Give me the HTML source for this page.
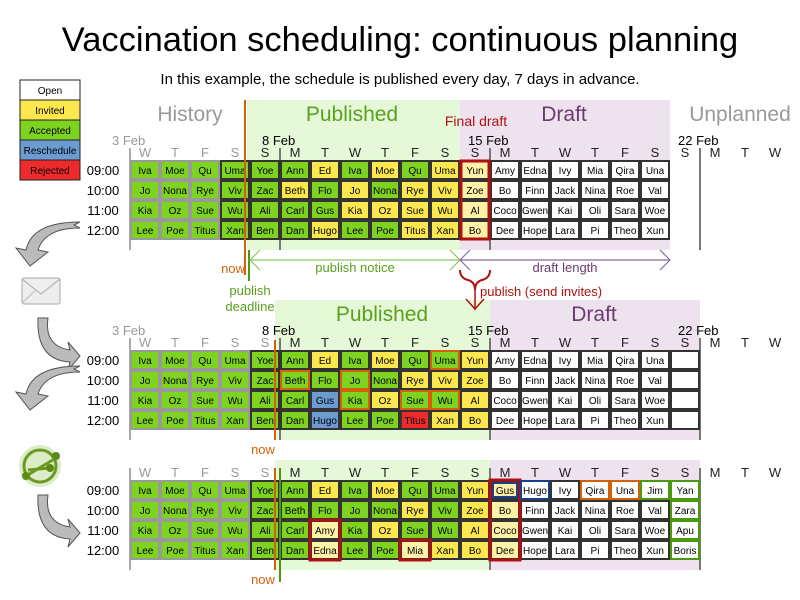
<!DOCTYPE html>
<html><head><meta charset="utf-8"><style>
body{margin:0;background:#fff}
svg{display:block;font-family:"Liberation Sans",sans-serif}
</style></head><body>
<svg id="s" width="800" height="600" viewBox="0 0 800 600" xmlns="http://www.w3.org/2000/svg">
<rect width="800" height="600" fill="#fff"/>
<text x="400" y="51" font-size="34.5" text-anchor="middle">Vaccination scheduling: continuous planning</text>
<text x="400" y="84" font-size="15" text-anchor="middle">In this example, the schedule is published every day, 7 days in advance.</text>
<g font-size="10" text-anchor="middle" stroke="#222">
<rect x="20" y="80" width="60" height="20" fill="#fff"/><rect x="20" y="100" width="60" height="20" fill="#fce84e"/>
<rect x="20" y="120" width="60" height="20" fill="#7ed321"/><rect x="20" y="140" width="60" height="20" fill="#6b9bd1"/>
<rect x="20" y="160" width="60" height="20" fill="#ee2a2a"/></g>
<g font-size="10" text-anchor="middle">
<text x="50" y="94">Open</text><text x="50" y="114">Invited</text><text x="50" y="134">Accepted</text><text x="50" y="154">Reschedule</text><text x="50" y="174">Rejected</text></g>
<rect x="247" y="100" width="213" height="150" fill="#e5f8d8"/>
<rect x="460" y="100" width="210" height="150" fill="#ede2ed"/>
<rect x="275" y="300" width="215" height="140" fill="#e5f8d8"/>
<rect x="490" y="300" width="210" height="140" fill="#ede2ed"/>
<rect x="275" y="460" width="215" height="110" fill="#e5f8d8"/>
<rect x="490" y="460" width="210" height="110" fill="#ede2ed"/>
<text x="190" y="121" font-size="21" fill="#999" text-anchor="middle">History</text>
<text x="352" y="121" font-size="21" fill="#5aa01e" text-anchor="middle">Published</text>
<text x="564" y="121" font-size="21" fill="#6a3a70" text-anchor="middle">Draft</text>
<text x="740" y="121" font-size="21" fill="#999" text-anchor="middle">Unplanned</text>
<text x="476" y="126" font-size="14" fill="#b01010" text-anchor="middle">Final draft</text>
<text x="382" y="321" font-size="21" fill="#5aa01e" text-anchor="middle">Published</text>
<text x="594" y="321" font-size="21" fill="#6a3a70" text-anchor="middle">Draft</text>
<g id="grids"></g>
<line x1="245" y1="100" x2="245" y2="275" stroke="#d4600a" stroke-width="2"/>
<line x1="249" y1="250" x2="249" y2="281" stroke="#4a9a10" stroke-width="2"/>
<text x="233" y="273" font-size="13" fill="#d4600a" text-anchor="middle">now</text>
<text x="250" y="295" font-size="13" fill="#5aa01e" text-anchor="middle">publish</text>
<text x="250" y="311" font-size="13" fill="#5aa01e" text-anchor="middle">deadline</text>
<g stroke="#8cc860" stroke-width="1.2" fill="none"><line x1="250" y1="260" x2="460" y2="260"/><polyline points="260,250 250,260 260,270"/><polyline points="450,250 460,260 450,270"/></g>
<text x="355" y="272" font-size="13" fill="#5aa01e" text-anchor="middle">publish notice</text>
<g stroke="#8a6a9a" stroke-width="1.2" fill="none"><line x1="460" y1="260" x2="670" y2="260"/><polyline points="470,250 460,260 470,270"/><polyline points="660,250 670,260 660,270"/></g>
<text x="565" y="272" font-size="13" fill="#6a3a70" text-anchor="middle">draft length</text>
<path d="M460,270 Q460,278 468,280 Q475,282 475,290 Q475,282 482,280 Q490,278 490,270" stroke="#b01010" stroke-width="2" fill="none"/>
<line x1="475" y1="290" x2="475" y2="310" stroke="#b01010" stroke-width="1.5"/>
<polyline points="466,299 475,309 484,299" stroke="#b01010" stroke-width="1.5" fill="none"/>
<text x="480" y="296" font-size="13" fill="#b01010">publish (send invites)</text>
<line x1="275" y1="340" x2="275" y2="440" stroke="#d4600a" stroke-width="2"/>
<text x="263" y="454" font-size="13" fill="#d4600a" text-anchor="middle">now</text>
<line x1="275" y1="468" x2="275" y2="570" stroke="#d4600a" stroke-width="2"/>
<line x1="280" y1="468" x2="280" y2="582" stroke="#4a9a10" stroke-width="2"/>
<text x="263" y="584" font-size="13" fill="#d4600a" text-anchor="middle">now</text>
<g fill="#bbb" stroke="#555" stroke-width="1">
<path d="M80,228 Q45,228 38,250 L48,252 L30,266 L16,248 L26,250 Q32,222 80,222 L74,225 Z"/>
<path d="M38,318 L48,318 Q44,346 70,350 L68,342 L80,356 L68,370 L70,362 Q36,360 38,318 Z"/>
<path d="M80,372 Q45,372 38,394 L48,396 L30,410 L16,392 L26,394 Q32,366 80,366 L74,369 Z"/>
<path d="M38,495 L48,495 Q44,523 70,527 L68,519 L80,533 L68,547 L70,539 Q36,537 38,495 Z"/>
</g>
<rect x="22" y="278" width="38" height="26" fill="#eee" stroke="#aaa" rx="2"/>
<polyline points="22,279 41,294 60,279" fill="none" stroke="#aaa"/>
<polyline points="22,303 36,290 M46,290 60,303" fill="none" stroke="#bbb"/>
<circle cx="40" cy="466" r="21" fill="#dcebc8"/>
<circle cx="40" cy="466" r="16" fill="none" stroke="#6a9a20" stroke-width="3"/>
<path d="M26,476 L56,458 M28,470 L50,468" stroke="#6a9a20" stroke-width="3"/>
<circle cx="26" cy="476" r="4" fill="#5a8a18"/><circle cx="56" cy="456" r="4" fill="#5a8a18"/><circle cx="50" cy="468" r="4" fill="#5a8a18"/>
</svg>
<script>
const NS="http://www.w3.org/2000/svg",g=document.getElementById('grids');
function el(t,a,txt){const e=document.createElementNS(NS,t);for(const k in a)e.setAttribute(k,a[k]);if(txt!=null)e.textContent=txt;g.appendChild(e);return e;}
const days="W T F S S M T W T F S S M T W T F S S M T W".split(" ");
const names=[
["Iva","Moe","Qu","Uma","Yoe","Ann","Ed","Iva","Moe","Qu","Uma","Yun","Amy","Edna","Ivy","Mia","Qira","Una"],
["Jo","Nona","Rye","Viv","Zac","Beth","Flo","Jo","Nona","Rye","Viv","Zoe","Bo","Finn","Jack","Nina","Roe","Val"],
["Kia","Oz","Sue","Wu","Ali","Carl","Gus","Kia","Oz","Sue","Wu","Al","Coco","Gwen","Kai","Oli","Sara","Woe"],
["Lee","Poe","Titus","Xan","Ben","Dan","Hugo","Lee","Poe","Titus","Xan","Bo","Dee","Hope","Lara","Pi","Theo","Xun"]];
const C={G:"#7ed321",Y:"#fce84e",L:"#fdf2a8",B:"#6b9bd1",R:"#ee2a2a",W:"#fff"};
const col1=["GGGG","GGGG","GGGG","GGGG","GGGG","GYGG","YGGY","GYYG","YGYG","GYYY","YYYY","LLLL","WWWW","WWWW","WWWW","WWWW","WWWW","WWWW"];
const col2=["GGGG","GGGG","GGGG","GGGG","GGGG","GGGG","YGBB","GGGG","YGYG","GYGR","GYGY","YYYY","WWWW","WWWW","WWWW","WWWW","WWWW","WWWW","WWWW"];
const col3=["GGGG","GGGG","GGGG","GGGG","GGGG","GGGG","YGLL","GGGG","YGYG","GYGL","GGGY","YYYY","LLLL","WWWW","WWWW","WWWW","WWWW","WWWW","WWWW"];
const n3=JSON.parse(JSON.stringify(names));
n3[2][6]="Amy";n3[3][6]="Edna";n3[3][9]="Mia";n3[0][12]="Gus";n3[0][13]="Hugo";n3[0][15]="Qira";n3[0][16]="Una";n3[0][17]="Jim";
const extra=["Yan","Zara","Apu","Boris"];
function grid(y0,cols,nm,ncol,ext,dates,dark){
 const hx=[130,280,490,700];
 if(dates){el('text',{x:112,y:y0-15,'font-size':13,fill:'#999'},"3 Feb");
  el('text',{x:262,y:y0-15,'font-size':13},"8 Feb");el('text',{x:468,y:y0-15,'font-size':13},"15 Feb");el('text',{x:678,y:y0-15,'font-size':13},"22 Feb");}
 days.forEach((d,i)=>el('text',{x:145+30*i,y:y0-3,'font-size':13,'text-anchor':'middle',fill:i<(dark)?'#999':'#222'},d));
 hx.forEach((x,i)=>el('line',{x1:x,y1:y0-12,x2:x,y2:y0+90,stroke:i==0?'#aaa':'#777','stroke-width':2}));
 ["09:00","10:00","11:00","12:00"].forEach((t,r)=>el('text',{x:103,y:y0+15+20*r,'font-size':13,'text-anchor':'middle'},t));
 for(let c=0;c<ncol;c++)for(let r=0;r<4;r++){
  const x=130+30*c,y=y0+20*r,k=cols[c][r];
  el('rect',{x:x+1,y:y+1,width:28,height:18,fill:C[k],stroke:c<dark-1?'#999':'#333','stroke-width':2});
  let t=c<18?nm[r][c]:(ext?ext[r]:"");
  el('text',{x:x+15,y:y+14,'font-size':10,'text-anchor':'middle'},t);
 }
}
grid(160,col1,names,18,null,true,4);
grid(350,col2,names,19,null,true,5);
grid(480,col3,n3,19,extra,false,5);
function box(x,y,w,h,c,sw){el('rect',{x,y,width:w,height:h,fill:'none',stroke:c,'stroke-width':sw||2.5});}
box(461,161,28,78,'#b01010',3);
[[280,370],[340,370],[340,390],[400,390],[430,350],[430,390]].forEach(p=>box(p[0]+1,p[1]+1,28,18,'#d4600a',2));
box(310,520,30,40,'#b01010',3);box(400,540,30,20,'#b01010',3);box(490,480,30,80,'#b01010',3);
box(493,483,24,14,'#1a3f8a',2);box(521,481,28,18,'#1a3f8a',2);
box(581,481,28,18,'#d4600a',2);box(611,481,28,18,'#d4600a',2);
box(641,481,28,18,'#4a9a10',2);
for(let r=0;r<4;r++)box(671,481+20*r,28,18,'#4a9a10',2);
</script>
</body></html>
